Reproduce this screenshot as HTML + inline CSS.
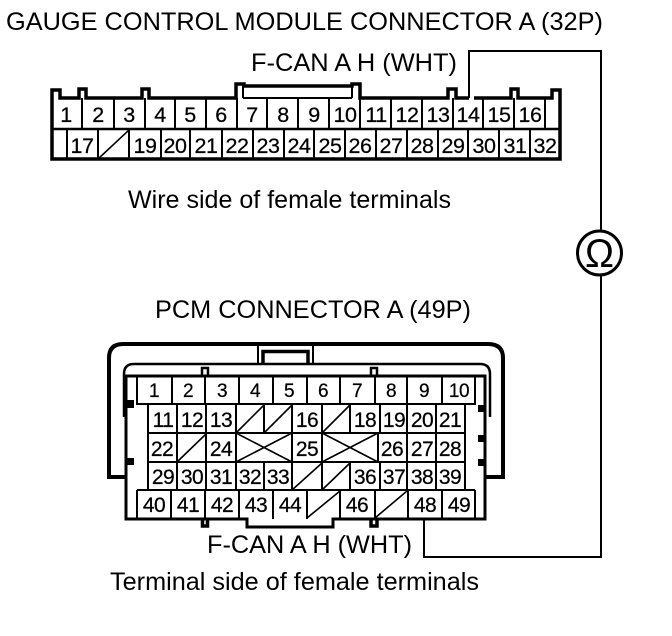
<!DOCTYPE html>
<html>
<head>
<meta charset="utf-8">
<style>
html,body{margin:0;padding:0;background:#fff;width:672px;height:636px;overflow:hidden}
svg{display:block}
text{font-family:"Liberation Sans",sans-serif;fill:#000}
.t{font-size:25px}
.n text{font-size:21.5px;text-anchor:middle;letter-spacing:-.5px;stroke:#000;stroke-width:.25px}
.s text{font-size:21px;text-anchor:middle;letter-spacing:-.5px;stroke:#000;stroke-width:.25px}
</style>
</head>
<body>
<svg width="672" height="636" viewBox="0 0 672 636" xmlns="http://www.w3.org/2000/svg">
<rect width="672" height="636" fill="#fff"/>

<!-- Titles -->
<text class="t" x="6" y="30" textLength="597" lengthAdjust="spacingAndGlyphs">GAUGE CONTROL MODULE CONNECTOR A (32P)</text>
<text class="t" x="251" y="71" textLength="206" lengthAdjust="spacingAndGlyphs">F-CAN A H (WHT)</text>
<text class="t" x="128" y="208" textLength="323" lengthAdjust="spacingAndGlyphs">Wire side of female terminals</text>
<text class="t" x="155" y="318" textLength="316" lengthAdjust="spacingAndGlyphs">PCM CONNECTOR A (49P)</text>
<text class="t" x="207" y="553" textLength="205" lengthAdjust="spacingAndGlyphs">F-CAN A H (WHT)</text>
<text class="t" x="110" y="590" textLength="369" lengthAdjust="spacingAndGlyphs">Terminal side of female terminals</text>

<!-- 32P connector outline -->
<g fill="none" stroke="#000" stroke-linejoin="miter">
<path stroke-width="3.5" d="M52 129V90H60V98H79V89H86V98H142V89H149V98H236V84H244V86H352V84H360V98H448V89H456V98H469M474 98H511V89H518V98H552V90H560V159H52V129"/>
<path stroke-width="2" d="M243 86V98M352 86V98M243 98H352"/>
<path stroke-width="2.5" d="M52 129H560"/>
<path stroke-width="2" d="M82 98V129M114 98V129M145 98V129M175 98V129M206 98V129M237 98V129M267 98V129M298 98V129M329 98V129M360 98V129M391 98V129M422 98V129M453 98V129M483 98V129M514 98V129M545 98V129"/>
<path stroke-width="2" d="M67 129V159M98 129V159M129 129V159M161 129V159M190 129V159M222 129V159M253 129V159M284 129V159M314 129V159M345 129V159M376 129V159M407 129V159M438 129V159M468 129V159M499 129V159M530 129V159"/>
<path stroke-width="1.6" d="M98 159L129 130"/>
<!-- Wiring -->
<path stroke-width="2" d="M469 98V51H601V231M601 276V557H424V519"/>
<circle cx="599.5" cy="253" r="22" stroke-width="3"/>
</g>
<text x="585" y="267" font-size="40" textLength="29" lengthAdjust="spacingAndGlyphs" style="font-family:'Liberation Sans',sans-serif">Ω</text>

<!-- 32P numbers -->
<g class="n">
<text x="66" y="122">1</text><text x="98" y="122">2</text><text x="129" y="122">3</text><text x="160" y="122">4</text><text x="190" y="122">5</text><text x="221" y="122">6</text><text x="252" y="122">7</text><text x="283" y="122">8</text><text x="314" y="122">9</text><text x="345" y="122">10</text><text x="376" y="122">11</text><text x="407" y="122">12</text><text x="438" y="122">13</text><text x="468" y="122">14</text><text x="499" y="122">15</text><text x="530" y="122">16</text>
<text x="82" y="153">17</text><text x="145" y="153">19</text><text x="175" y="153">20</text><text x="206" y="153">21</text><text x="237" y="153">22</text><text x="268" y="153">23</text><text x="299" y="153">24</text><text x="330" y="153">25</text><text x="360" y="153">26</text><text x="391" y="153">27</text><text x="422" y="153">28</text><text x="453" y="153">29</text><text x="484" y="153">30</text><text x="515" y="153">31</text><text x="545" y="153">32</text>
</g>

<!-- 49P connector -->
<g fill="none" stroke="#000">
<path stroke-width="4" d="M126 477H109V358Q109 344 123 344H488Q503 344 503 358V477H485"/>
<path stroke-width="2" d="M258 344V363M313 344V363"/>
<path stroke-width="3.5" d="M263 363V351.500H308V363"/>
<path stroke-width="2.5" d="M124 417V374Q124 364 134 364H480Q490 364 490 374V417"/>
<path stroke-width="3" d="M126 376H485V519H333V527H247V519H126Z"/>
<path stroke-width="2.5" d="M202 376V368H208V376M371 376V368H377V376"/>
<path stroke-width="3.5" d="M202.500 519V526H207.500V519M371 519V526H377V519"/>
<g stroke-width="2">
<!-- Row 1 -->
<path d="M137 376V404H475V376M172 376V404M205 376V404M239 376V404M273 376V404M307 376V404M340 376V404M375 376V404M407 376V404M442 376V404"/>
<!-- Rows 2-4 -->
<path d="M148 404V490M177 404V490M206 404V490M236 404V490M465 404V490M407 404V490M436 404V490M380 404V433M380 462V490M378 433V462M264 404V433M264 462V490M292 404V490M322 404V490M350 404V433M350 462V490"/>
<path d="M148 433H465M148 462H465"/>
<!-- Row 5 -->
<path d="M137 490H475M137 490V519M171 490V519M205 490V519M239 490V519M273 490V519M307 490V519M340 490V519M375 490V519M408 490V519M442 490V519M475 490V519"/>
</g>
<g stroke-width="1.6">
<path d="M236 433L264 405M264 433L292 405M322 433L350 405M177 462L206 434M236 433L292 462M236 462L292 433M322 433L378 462M322 462L378 433M292 490L322 463M322 490L350 463M307 518L340 491M375 518L407 491"/>
</g>
</g>
<g fill="#000">
<rect x="127" y="400" width="7" height="8"/><rect x="127" y="458" width="7" height="7"/>
<rect x="478" y="405" width="7" height="7"/><rect x="478" y="435" width="7" height="7"/><rect x="478" y="459" width="7" height="7"/>
</g>

<!-- 49P numbers -->
<g class="s">
<text x="154" y="397" style="font-size:19px">1</text><text x="188" y="397" style="font-size:19px">2</text><text x="222" y="397" style="font-size:19px">3</text><text x="255" y="397" style="font-size:19px">4</text><text x="289" y="397" style="font-size:19px">5</text><text x="323" y="397" style="font-size:19px">6</text><text x="357" y="397" style="font-size:19px">7</text><text x="391" y="397" style="font-size:19px">8</text><text x="424" y="397" style="font-size:19px">9</text><text x="459" y="397" style="font-size:19px">10</text>
<text x="163" y="427">11</text><text x="192" y="427">12</text><text x="221" y="427">13</text><text x="307" y="427">16</text><text x="365" y="427">18</text><text x="394" y="427">19</text><text x="422" y="427">20</text><text x="450" y="427">21</text>
<text x="162" y="456">22</text><text x="221" y="456">24</text><text x="307" y="456">25</text><text x="392" y="456">26</text><text x="422" y="456">27</text><text x="450" y="456">28</text>
<text x="163" y="484">29</text><text x="192" y="484">30</text><text x="221" y="484">31</text><text x="250" y="484">32</text><text x="278" y="484">33</text><text x="365" y="484">36</text><text x="394" y="484">37</text><text x="422" y="484">38</text><text x="450" y="484">39</text>
<text x="154" y="512">40</text><text x="188" y="512">41</text><text x="222" y="512">42</text><text x="256" y="512">43</text><text x="290" y="512">44</text><text x="357" y="512">46</text><text x="425" y="512">48</text><text x="459" y="512">49</text>
</g>
</svg>
</body>
</html>
